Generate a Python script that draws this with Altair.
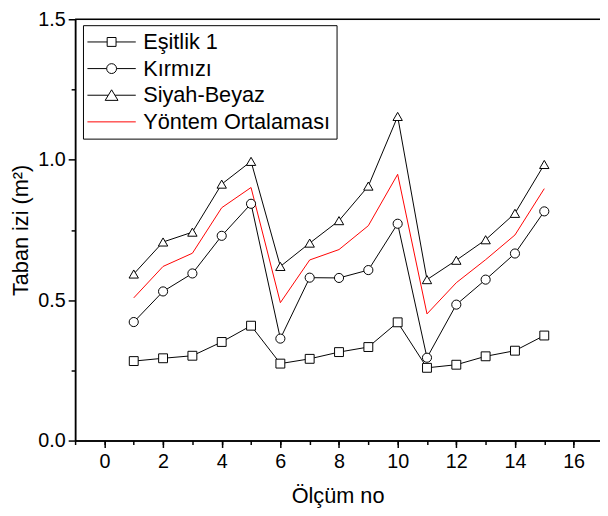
import altair as alt
import pandas as pd

x_vals = list(range(1, 16))
esitlik = [0.283, 0.293, 0.302, 0.351, 0.409, 0.274, 0.291, 0.315, 0.333, 0.421, 0.259, 0.270, 0.300, 0.320, 0.374]
kirmizi = [0.422, 0.531, 0.595, 0.729, 0.843, 0.363, 0.580, 0.579, 0.607, 0.772, 0.295, 0.484, 0.573, 0.666, 0.816]
siyah = [0.593, 0.707, 0.742, 0.913, 0.994, 0.620, 0.703, 0.783, 0.906, 1.154, 0.573, 0.642, 0.715, 0.809, 0.983]
ortalama = [0.508, 0.620, 0.667, 0.829, 0.901, 0.491, 0.643, 0.680, 0.765, 0.948, 0.451, 0.562, 0.644, 0.732, 0.897]

names = ["Eşitlik 1", "Kırmızı", "Siyah-Beyaz", "Yöntem Ortalaması"]
series_vals = [esitlik, kirmizi, siyah, ortalama]

rows = []
for name, vals in zip(names, series_vals):
    for xv, yv in zip(x_vals, vals):
        rows.append({"x": xv, "y": yv, "series": name})
df = pd.DataFrame(rows)
df_pts = df[df["series"] != "Yöntem Ortalaması"]

FONT = "Liberation Sans"
xscale = alt.Scale(domain=[-1, 16.9], nice=False, zero=False)
yscale = alt.Scale(domain=[0, 1.5], nice=False, zero=False)

axis_common = dict(orient="bottom", grid=False, domainColor="black", domainWidth=1.5,
                   tickColor="black", tickWidth=1.5, labelFont=FONT, titleFont=FONT,
                   labelColor="black", titleColor="black")

x_major = alt.Axis(values=list(range(0, 17, 2)), title="Ölçüm no", tickSize=7,
                   labelFontSize=20, labelPadding=4, titleFontSize=22, titleFontWeight="normal",
                   titlePadding=15, format="d", **axis_common)
x_minor = alt.Axis(values=list(range(-1, 17)), labels=False, title="", tickSize=4, **axis_common)

yaxis_common = dict(axis_common)
yaxis_common["orient"] = "left"
y_major = alt.Axis(values=[0, 0.5, 1.0, 1.5], title="Taban izi (m²)", tickSize=7,
                   labelFontSize=20, labelPadding=3, titleFontSize=22, titleFontWeight="normal",
                   titlePadding=5, format=".1f", **yaxis_common)
y_minor = alt.Axis(values=[0.25, 0.75, 1.25], labels=False, title="", tickSize=4, **yaxis_common)

lines = alt.Chart(df).mark_line().encode(
    x=alt.X("x:Q", scale=xscale, axis=x_major),
    y=alt.Y("y:Q", scale=yscale, axis=y_major),
    color=alt.Color("series:N", scale=alt.Scale(domain=names, range=["black", "black", "black", "#ff0000"]), legend=None),
    strokeWidth=alt.StrokeWidth("series:N", scale=alt.Scale(domain=names, range=[1, 1, 1, 1.6]), legend=None),
    detail="series:N",
)

points = alt.Chart(df_pts).mark_point(filled=True, fill="white", stroke="black", strokeWidth=1, opacity=1).encode(
    x=alt.X("x:Q", scale=xscale, axis=x_minor),
    y=alt.Y("y:Q", scale=yscale, axis=y_minor),
    shape=alt.Shape("series:N", scale=alt.Scale(domain=names[:3], range=["square", "circle", "triangle-up"]), legend=None),
    size=alt.Size("series:N", scale=alt.Scale(domain=names[:3], range=[81, 90, 144]), legend=None),
)

leg_paths = [
    "M-12.5,0H7.5M16.5,0H36.5M7.5,-4.5H16.5V4.5H7.5Z",
    "M-12.5,0H7M17,0H36.5M17,0A5,5 0 1,1 7,0A5,5 0 1,1 17,0Z",
    "M-12.5,0H8.5M15.5,0H36.5M12,-5.5L18.5,5.2L5.5,5.2Z",
    "M-12.5,0H36.5",
]
legend = alt.Legend(title=None, orient="none", legendX=8, legendY=6, padding=6,
                    strokeColor="black", fillColor="white", labelFont=FONT, labelFontSize=22,
                    labelColor="black", labelOffset=33, rowPadding=5, symbolSize=4,
                    symbolOpacity=1, symbolFillColor="white", symbolStrokeWidth=1, labelLimit=400)

legend_layer = alt.Chart(df).mark_point(filled=True, fill="white", opacity=0, size=4).encode(
    x=alt.X("x:Q", scale=xscale, axis=None),
    y=alt.Y("y:Q", scale=yscale, axis=None),
    shape=alt.Shape("series:N", scale=alt.Scale(domain=names, range=leg_paths), legend=legend),
    stroke=alt.Stroke("series:N", scale=alt.Scale(domain=names, range=["black", "black", "black", "#ff0000"]), legend=legend),
)

top_df = pd.DataFrame({"y": [1.5]})
top_rule = alt.Chart(top_df).mark_rule(color="black", strokeWidth=1.5).encode(
    y=alt.Y("y:Q", scale=yscale, axis=None)
)

chart = alt.layer(lines, points, legend_layer, top_rule).resolve_scale(
    shape="independent", color="independent", stroke="independent", size="independent", strokeWidth="independent"
).resolve_axis(x="independent", y="independent").properties(
    width=532, height=427,
    padding={"left": 68, "top": 8, "right": 0, "bottom": 70},
    autosize=alt.AutoSizeParams(type="none"),
).configure_view(strokeWidth=0).configure(background="white")

chart.save("out.html", embed_options={"renderer": "svg", "actions": False})
